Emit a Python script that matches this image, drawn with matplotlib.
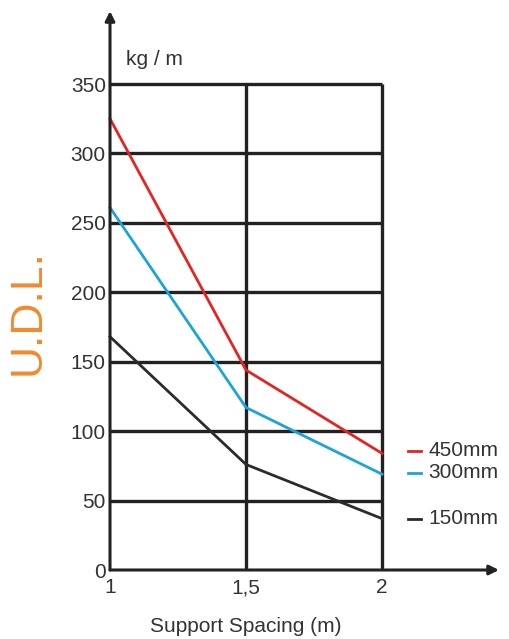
import matplotlib.pyplot as plt
import numpy as np

plt.rcParams['font.family'] = ['Liberation Sans', 'DejaVu Sans']

# Data
spacing = [1, 1.5, 2]
udl_450 = [325, 144, 84]
udl_300 = [261, 117, 69]
udl_150 = [168, 76, 37]
series_labels = ['450mm', '300mm', '150mm']
label_y = [86, 70, 37]
y_ticks = [0, 50, 100, 150, 200, 250, 300, 350]
x_ticks = [1, 1.5, 2]
x_tick_labels = ['1', '1,5', '2']

colors = ['#e52421', '#1ba3dc', '#2b2b2b']
grid_col = '#222222'
text_col = '#333333'

fig = plt.figure(figsize=(5.09, 6.39), dpi=100)
ax = fig.add_axes([110/509, 69/639, 272/509, 486/639])
ax.set_xlim(1, 2)
ax.set_ylim(0, 350)

# grid
for y in y_ticks[1:]:
    ax.plot([1, 2], [y, y], color=grid_col, lw=2.4, zorder=1,
            solid_capstyle='butt', clip_on=False)
for x in [1.5, 2]:
    ax.plot([x, x], [0, 350], color=grid_col, lw=2.4, zorder=1,
            solid_capstyle='butt', clip_on=False)

# series
for vals, c in zip([udl_450, udl_300, udl_150], colors):
    ax.plot(spacing, vals, color=c, lw=2, zorder=3, solid_joinstyle='round',
            clip_on=False)

# legend-like labels at the right
for lbl, y, c in zip(series_labels, label_y, colors):
    ax.plot([2.095, 2.145], [y, y], color=c, lw=2, clip_on=False)
    ax.text(2.17, y, lbl, color=text_col, fontsize=15, va='center', ha='left')

for s in ax.spines.values():
    s.set_visible(False)

# axis arrows
ax.annotate('', xy=(0, 1.15), xycoords='axes fraction', xytext=(0, 0),
            arrowprops=dict(arrowstyle='-|>', color=grid_col, lw=2.2,
                            mutation_scale=14, shrinkA=0, shrinkB=0))
ax.annotate('', xy=(1.43, 0), xycoords='axes fraction', xytext=(0, 0),
            arrowprops=dict(arrowstyle='-|>', color=grid_col, lw=2.2,
                            mutation_scale=14, shrinkA=0, shrinkB=0))

ax.set_yticks(y_ticks)
ax.set_yticklabels([str(v) for v in y_ticks])
ax.set_xticks(x_ticks)
ax.set_xticklabels(x_tick_labels)
ax.tick_params(length=0, labelsize=15, labelcolor=text_col, pad=3)
ax.tick_params(axis='x', pad=6)

ax.text(0.06, 1.05, 'kg / m', transform=ax.transAxes, fontsize=15,
        color=text_col, ha='left', va='center')
ax.set_xlabel('Support Spacing (m)', fontsize=15, color=text_col, labelpad=14)
fig.text(28/509, 1 - 312/639, 'U.D.L.', fontsize=32, color='#f08a30',
         rotation=90, ha='center', va='center')

fig.savefig('out.png', dpi=100)
